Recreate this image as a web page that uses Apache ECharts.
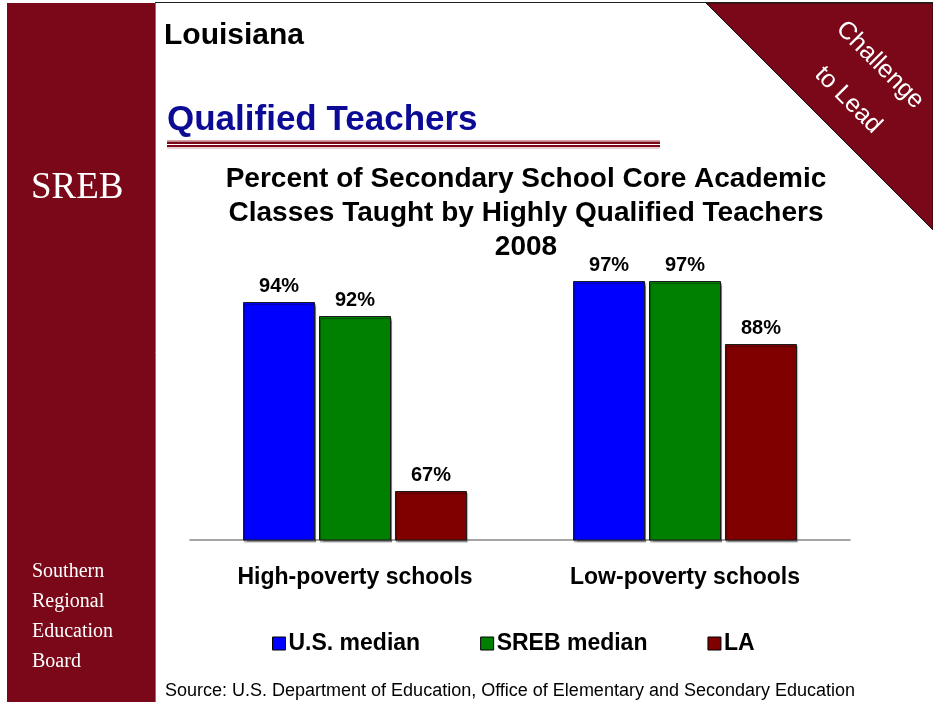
<!DOCTYPE html>
<html>
<head>
<meta charset="utf-8">
<script src="https://cdn.jsdelivr.net/npm/echarts@6/dist/echarts.min.js"></script>
<style>
  html, body { margin: 0; padding: 0; background: #ffffff; }
  #chart { width: 933px; height: 702px; }
</style>
</head>
<body>
<div id="chart"></div>
<script>
// Chart data
const categories = ['High-poverty schools', 'Low-poverty schools'];
const usMedian = [94, 97];
const srebMedian = [92, 97];
const laValues = [67, 88];
const seriesNames = ['U.S. median', 'SREB median', 'LA'];
const seriesColors = ['#0000ff', '#008000', '#800000'];

const maroon = '#7a0818';
const sans = '"Liberation Sans", Arial, sans-serif';
const serif = '"Liberation Serif", "Times New Roman", serif';

const chart = echarts.init(document.getElementById('chart'), null, { renderer: 'canvas' });

function barSeries(name, data, color) {
  return {
    name: name,
    type: 'bar',
    data: data,
    barWidth: 72,
    barGap: '5.5%',
    itemStyle: {
      color: color,
      borderColor: '#1a1a1a',
      borderWidth: 1,
      shadowColor: 'rgba(0,0,0,0.35)',
      shadowOffsetX: 1,
      shadowOffsetY: 2,
      shadowBlur: 1
    },
    label: {
      show: true,
      position: 'top',
      distance: 6,
      formatter: '{c}%',
      color: '#000',
      fontFamily: sans,
      fontWeight: 'bold',
      fontSize: 20
    }
  };
}

const option = {
  backgroundColor: '#ffffff',
  animation: false,
  title: {
    text: 'Percent of Secondary School Core Academic\nClasses Taught by Highly Qualified Teachers\n2008',
    left: 521,
    top: 157,
    textAlign: 'center',
    textStyle: {
      color: '#000',
      fontFamily: sans,
      fontWeight: 'bold',
      fontSize: 28,
      lineHeight: 34,
      align: 'center'
    }
  },
  legend: {
    left: 267,
    top: 627,
    icon: 'rect',
    itemWidth: 13,
    itemHeight: 13,
    itemGap: 60,
    data: seriesNames,
    textStyle: {
      color: '#000',
      fontFamily: sans,
      fontWeight: 'bold',
      fontSize: 23,
      padding: [0, 0, 0, -2]
    },
    itemStyle: { borderColor: '#000', borderWidth: 1, shadowBlur: 0, shadowOffsetX: 0, shadowOffsetY: 0 }
  },
  grid: { left: 190, right: 83, top: 260, bottom: 162 },
  xAxis: {
    type: 'category',
    data: categories,
    axisLine: { lineStyle: { color: '#888', width: 1.5 } },
    axisTick: { show: false },
    axisLabel: {
      color: '#000',
      fontFamily: sans,
      fontWeight: 'bold',
      fontSize: 23,
      margin: 26
    }
  },
  yAxis: {
    type: 'value',
    min: 60,
    max: 100,
    show: false,
    splitLine: { show: false }
  },
  series: [
    barSeries(seriesNames[0], usMedian, seriesColors[0]),
    barSeries(seriesNames[1], srebMedian, seriesColors[1]),
    barSeries(seriesNames[2], laValues, seriesColors[2])
  ],
  graphic: [
    // left sidebar
    { type: 'rect', shape: { x: 7, y: 3, width: 148, height: 699 }, style: { fill: maroon }, z: -10 },
    { type: 'line', shape: { x1: 155.5, y1: 3, x2: 155.5, y2: 702 }, style: { stroke: '#b06070', lineWidth: 1 }, z: -9 },
    { type: 'line', shape: { x1: 155, y1: 2.5, x2: 933, y2: 2.5 }, style: { stroke: '#222', lineWidth: 1 }, z: -9 },
    { type: 'text', left: 31, top: 170, style: { text: 'SREB', fill: '#fff', font: '37px ' + serif } },
    { type: 'text', left: 32, top: 557, style: { text: 'Southern\nRegional\nEducation\nBoard', fill: '#fff', font: '20px ' + serif, lineHeight: 30 } },
    // corner banner
    { type: 'polygon', shape: { points: [[706, 3], [933, 3], [933, 230]] }, style: { fill: maroon, stroke: '#111', lineWidth: 1 }, z: -10 },
    { type: 'text', x: 880, y: 65, rotation: -Math.PI / 4, style: { text: 'Challenge', fill: '#fff', font: '25px ' + sans, align: 'center', verticalAlign: 'middle' } },
    { type: 'text', x: 848, y: 100, rotation: -Math.PI / 4, style: { text: 'to Lead', fill: '#fff', font: '25px ' + sans, align: 'center', verticalAlign: 'middle' } },
    // headings
    { type: 'text', left: 164, top: 21, style: { text: 'Louisiana', fill: '#000', font: 'bold 30px ' + sans } },
    { type: 'text', left: 167, top: 103, style: { text: 'Qualified Teachers', fill: '#0b0b96', font: 'bold 35px ' + sans } },
    // double rule under heading
    { type: 'rect', shape: { x: 167, y: 140, width: 493, height: 1 }, style: { fill: '#d8a0a8' } },
    { type: 'rect', shape: { x: 167, y: 141.5, width: 493, height: 2.5 }, style: { fill: maroon } },
    { type: 'rect', shape: { x: 167, y: 145, width: 493, height: 2 }, style: { fill: maroon } },
    { type: 'rect', shape: { x: 167, y: 147.5, width: 493, height: 1 }, style: { fill: '#d8a0a8' } },
    // source note
    { type: 'text', left: 165, top: 682, style: { text: 'Source: U.S. Department of Education, Office of Elementary and Secondary Education', fill: '#000', font: '18px ' + sans } }
  ]
};

chart.setOption(option);
</script>
</body>
</html>
